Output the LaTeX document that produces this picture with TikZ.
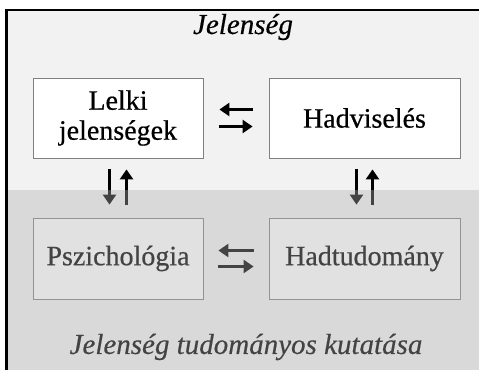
\documentclass[tikz,border=0pt]{standalone}
\usepackage{fontspec}
\setmainfont{Liberation Serif}
\newfontfamily\heavyfont{Liberation Serif}[FakeBold=0.6]
\newfontfamily\heavyit{Liberation Serif Italic}[FakeBold=0.4]
\usetikzlibrary{arrows.meta}
\tikzset{
  box/.style={draw=black!50, line width=0.8pt, fill=white, align=center, inner sep=0pt,
    font=\heavyfont\fontsize{28}{30}\selectfont},
  arr/.style={line width=3pt, -{Triangle[length=10pt,width=13pt]}},
  title/.style={font=\heavyit\fontsize{29}{32}\selectfont, inner sep=0pt}
}
\begin{document}
\begin{tikzpicture}[x=1pt,y=-1pt]
\useasboundingbox (0,0) rectangle (479,370);
\fill[white] (0,0) rectangle (479,370);
\fill[black!5] (8,10) rectangle (479,370);
\node[title] (t1) at (243,27) {Jelenség};
\node[box, minimum width=170pt, minimum height=80pt] (a) at (118,118) {Lelki\\jelenségek};
\node[box, minimum width=191pt, minimum height=80pt] (b) at (364.5,118) {Hadviselés};
\node[box, minimum width=170pt, minimum height=81pt] (c) at (118,258.5) {Pszichológia};
\node[box, minimum width=191pt, minimum height=81pt] (d) at (364.5,258.5) {Hadtudomány};
\node[title] (t2) at (246,347) {Jelenség tudományos kutatása};
% horizontal arrows
\draw[arr, shorten <=16pt, shorten >=16pt] ([yshift=-8.5pt]a.east) -- ([yshift=-8.5pt]b.west);
\draw[arr, shorten <=16pt, shorten >=16pt] ([yshift=8.5pt]b.west) -- ([yshift=8.5pt]a.east);
\draw[arr, shorten <=15pt, shorten >=15pt] ([yshift=-8pt]c.east) -- ([yshift=-8pt]d.west);
\draw[arr, shorten <=15pt, shorten >=15pt] ([yshift=8pt]d.west) -- ([yshift=8pt]c.east);
% vertical arrows
\draw[arr, shorten <=11pt, shorten >=13pt] ([xshift=-8.5pt]a.south) -- ([xshift=-8.5pt]c.north);
\draw[arr, shorten <=13pt, shorten >=11pt] ([xshift=8.5pt]c.north) -- ([xshift=8.5pt]a.south);
\draw[arr, shorten <=11pt, shorten >=13pt] ([xshift=-8pt]b.south) -- ([xshift=-8pt]d.north);
\draw[arr, shorten <=13pt, shorten >=11pt] ([xshift=8pt]d.north) -- ([xshift=8pt]b.south);
% translucent overlay for lower region
\fill[black!30, opacity=0.38] (8,190) rectangle (479,370);
% frame
\draw[line width=2pt] (6,10) -- (479,10);
\draw[line width=3pt] (6.5,9) -- (6.5,370);
\end{tikzpicture}
\end{document}
